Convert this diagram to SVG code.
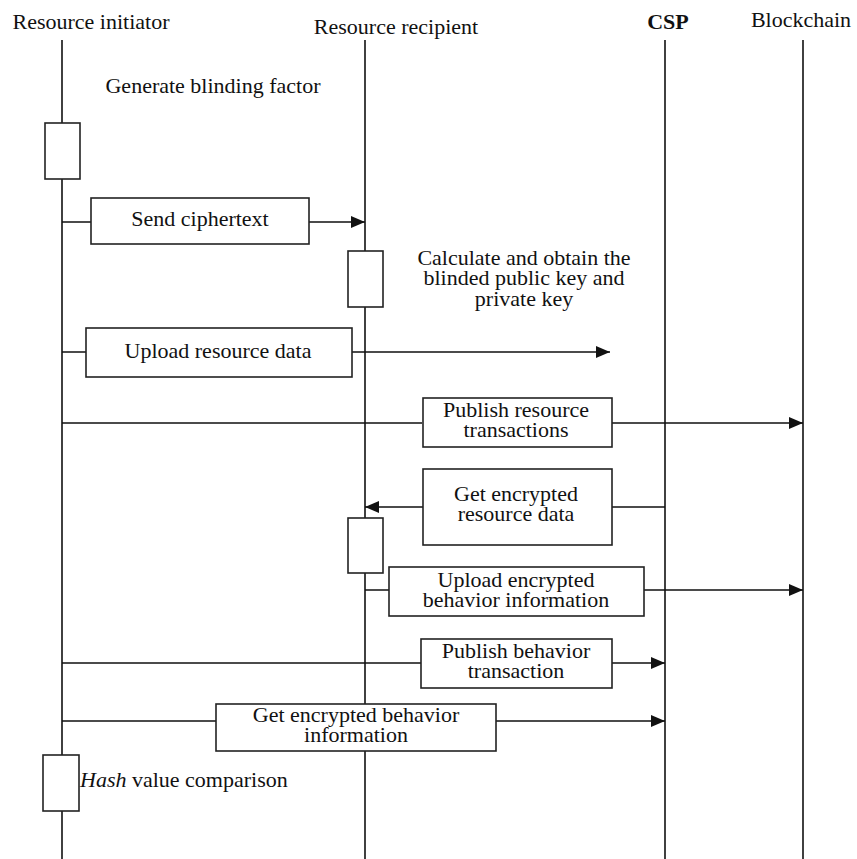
<svg xmlns="http://www.w3.org/2000/svg" width="857" height="859" viewBox="0 0 857 859">
<style>
text{font-family:"Liberation Serif","Times New Roman",serif;font-size:22px;fill:#111}
.c{text-anchor:middle}
.ll{stroke:#111;stroke-width:1.6;fill:none}
.bx{fill:#fff;stroke:#222;stroke-width:1.6}
.ln{stroke:#111;stroke-width:1.6;fill:none}
</style>
<defs>
<marker id="ah" markerWidth="14" markerHeight="12" refX="14" refY="6" orient="auto" markerUnits="userSpaceOnUse">
<path d="M0,0 L14,6 L0,12 Z" fill="#111"/>
</marker>
</defs>
<rect width="857" height="859" fill="#fff"/>
<g id="lifelines">
<text x="91" y="29" class="c">Resource initiator</text>
<text x="396" y="34" class="c">Resource recipient</text>
<text x="668" y="29" class="c" font-weight="bold">CSP</text>
<text x="801" y="27" class="c">Blockchain</text>
<line class="ll" x1="62" y1="40" x2="62" y2="859"/>
<line class="ll" x1="365" y1="40" x2="365" y2="859"/>
<line class="ll" x1="665" y1="40" x2="665" y2="859"/>
<line class="ll" x1="803" y1="40" x2="803" y2="859"/>
</g>
<g id="connectors">
<path class="ln" d="M62,222 H91 M309,222 H365" marker-end="url(#ah)"/>
<path class="ln" d="M62,352 H86 M352,352 H610" marker-end="url(#ah)"/>
<path class="ln" d="M62,423 H422 M612,423 H803" marker-end="url(#ah)"/>
<path class="ln" d="M665,507 H612 M423,507 H365" marker-end="url(#ah)"/>
<path class="ln" d="M365,590 H389 M644,590 H803" marker-end="url(#ah)"/>
<path class="ln" d="M62,663 H421 M612,663 H665" marker-end="url(#ah)"/>
<path class="ln" d="M62,721 H216 M496,721 H665" marker-end="url(#ah)"/>
</g>
<g id="generate">
<text x="213" y="93" class="c">Generate blinding factor</text>
<rect class="bx" x="45" y="123" width="35" height="56"/>
</g>
<g id="send-ciphertext">
<rect class="bx" x="91" y="198" width="218" height="46"/>
<text x="200" y="226" class="c">Send ciphertext</text>
</g>
<g id="calculate">
<rect class="bx" x="348" y="251" width="35" height="56"/>
<text class="c"><tspan x="524" y="265">Calculate and obtain the</tspan><tspan x="524" y="285">blinded public key and</tspan><tspan x="524" y="306">private key</tspan></text>
</g>
<g id="upload-resource">
<rect class="bx" x="86" y="328" width="266" height="49"/>
<text x="218" y="358" class="c">Upload resource data</text>
</g>
<g id="publish-resource">
<rect class="bx" x="423" y="398" width="189" height="49"/>
<text class="c"><tspan x="516" y="417">Publish resource</tspan><tspan x="516" y="437">transactions</tspan></text>
</g>
<g id="get-resource">
<rect class="bx" x="423" y="469" width="189" height="76"/>
<text class="c"><tspan x="516" y="501">Get encrypted</tspan><tspan x="516" y="521">resource data</tspan></text>
</g>
<g id="recipient-activation">
<rect class="bx" x="348" y="518" width="35" height="55"/>
</g>
<g id="upload-behavior">
<rect class="bx" x="389" y="567" width="255" height="49"/>
<text class="c"><tspan x="516" y="587">Upload encrypted</tspan><tspan x="516" y="607">behavior information</tspan></text>
</g>
<g id="publish-behavior">
<rect class="bx" x="421" y="639" width="191" height="49"/>
<text class="c"><tspan x="516" y="658">Publish behavior</tspan><tspan x="516" y="678">transaction</tspan></text>
</g>
<g id="get-behavior">
<rect class="bx" x="216" y="704" width="280" height="47"/>
<text class="c"><tspan x="356" y="722">Get encrypted behavior</tspan><tspan x="356" y="742">information</tspan></text>
</g>
<g id="hash">
<rect class="bx" x="43" y="755" width="36" height="56"/>
<text x="80" y="787"><tspan font-style="italic">Hash</tspan> value comparison</text>
</g>
</svg>
